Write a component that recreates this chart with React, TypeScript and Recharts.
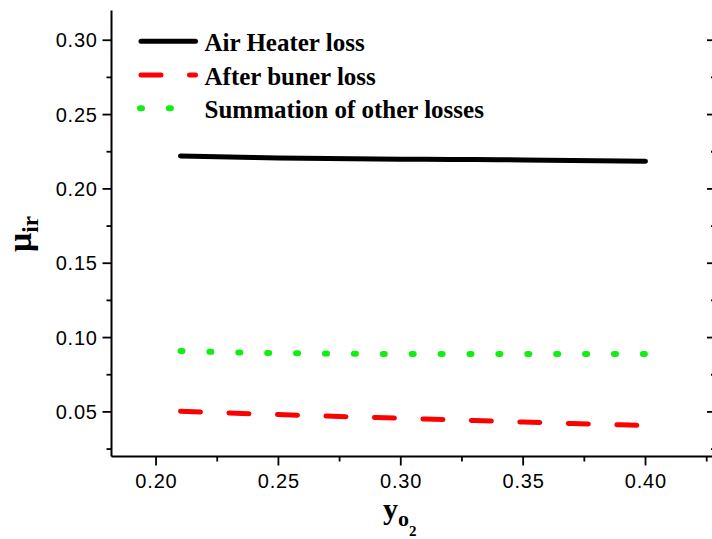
import React from 'react';
import { LineChart, Line, XAxis, YAxis, Legend, Label } from 'recharts';

const yO2 = [0.21, 0.22, 0.23, 0.24, 0.25, 0.26, 0.27, 0.28, 0.29, 0.30, 0.31, 0.32, 0.33, 0.34, 0.35, 0.36, 0.37, 0.38, 0.39, 0.40];
const airHeaterLoss = [0.2222, 0.2218, 0.2214, 0.2211, 0.2208, 0.2206, 0.2204, 0.2202, 0.2201, 0.2200, 0.2199, 0.2198, 0.2197, 0.2196, 0.2195, 0.2193, 0.2191, 0.2189, 0.2187, 0.2186];
const afterBurnerLoss = [0.0505, 0.0499, 0.0493, 0.0487, 0.0482, 0.0477, 0.0472, 0.0467, 0.0462, 0.0457, 0.0452, 0.0447, 0.0442, 0.0437, 0.0432, 0.0427, 0.0422, 0.0418, 0.0413, 0.0408];
const otherLosses = [0.0910, 0.0905, 0.0901, 0.0898, 0.0896, 0.0894, 0.0892, 0.0891, 0.0890, 0.0890, 0.0890, 0.0890, 0.0890, 0.0890, 0.0889, 0.0889, 0.0889, 0.0889, 0.0889, 0.0889];

const xTicks = [0.2, 0.225, 0.25, 0.275, 0.3, 0.325, 0.35, 0.375, 0.4, 0.425];
const yTicks = [0.025, 0.05, 0.075, 0.1, 0.125, 0.15, 0.175, 0.2, 0.225, 0.25, 0.275, 0.3];

const seriesNames = ['Air Heater loss', 'After buner loss', 'Summation of other losses'];

const data = yO2.map((x, i) => ({
  x,
  air: airHeaterLoss[i],
  after: afterBurnerLoss[i],
  other: otherLosses[i],
}));

const X_DOMAIN: [number, number] = [0.1818, 0.4288];
const Y_DOMAIN: [number, number] = [0.02, 0.32];

const SANS = '"Liberation Sans", Arial, sans-serif';
const SERIF = '"Liberation Serif", "Times New Roman", serif';

const isMajor = (v: number) => Math.abs(v * 20 - Math.round(v * 20)) < 1e-6;
const TICK_W = 1.8;

const BottomTick = (props: any) => {
  const { x, y, payload } = props;
  const v = payload.value as number;
  const major = isMajor(v);
  return (
    <g>
      <line x1={x} x2={x} y1={y} y2={y + (major ? 9 : 5)} stroke="#000" strokeWidth={TICK_W} />
      {major && (
        <text x={x + 0.4} y={y + 31.5} textAnchor="middle" fontFamily={SANS} fontSize={20} letterSpacing={0.8} fill="#000">
          {v.toFixed(2)}
        </text>
      )}
    </g>
  );
};

const LeftTick = (props: any) => {
  const { x, y, payload } = props;
  const v = payload.value as number;
  const major = isMajor(v);
  return (
    <g>
      <line x1={x} x2={x - (major ? 9 : 5)} y1={y} y2={y} stroke="#000" strokeWidth={TICK_W} />
      {major && (
        <text x={x - 13.7} y={y} dy="0.36em" textAnchor="end" fontFamily={SANS} fontSize={20} letterSpacing={0.8} fill="#000">
          {v.toFixed(2)}
        </text>
      )}
    </g>
  );
};

const TopTick = (props: any) => {
  const { x, y, payload } = props;
  const major = isMajor(payload.value);
  return <line x1={x} x2={x} y1={y} y2={y + (major ? 9 : 5)} stroke="#000" strokeWidth={TICK_W} />;
};

const RightTick = (props: any) => {
  const { x, y, payload } = props;
  const major = isMajor(payload.value);
  return <line x1={x} x2={x - (major ? 9 : 5)} y1={y} y2={y} stroke="#000" strokeWidth={TICK_W} />;
};

const styles = [
  { stroke: '#000000', dash: undefined as string | undefined, x1: 141, x2: 195.5 },
  { stroke: '#ff0000', dash: '20 28.5', x1: 141, x2: 195.5 },
  { stroke: '#11ee11', dash: '2 26.9', x1: 140, x2: 172 },
];

const LegendContent = (props: any) => {
  const payload = props.payload || [];
  const rows = [41.2, 75, 108.2];
  return (
    <svg width={712} height={130} style={{ position: 'absolute', left: 0, top: 0 }}>
      {seriesNames.map((name, i) => {
        const item = payload.find((p: any) => p.value === name);
        const s = styles[i];
        return (
          <g key={name}>
            <line
              x1={s.x1}
              x2={s.x2}
              y1={rows[i]}
              y2={rows[i]}
              stroke={item ? item.color : s.stroke}
              strokeWidth={i === 2 ? 6 : 5}
              strokeDasharray={s.dash}
              strokeLinecap="round"
            />
            <text x={204.5} y={rows[i] + 9.5} fontFamily={SERIF} fontWeight="bold" fontSize={25} fill="#000">
              {name}
            </text>
          </g>
        );
      })}
    </svg>
  );
};

const XTitle = () => (
  <text x={383} y={519} fontFamily={SERIF} fontWeight="bold" fontSize={30} fill="#000">
    <tspan>y</tspan>
    <tspan fontSize={22} dy={7}>o</tspan>
    <tspan fontSize={15} dy={10} dx={0}>2</tspan>
  </text>
);

const YTitle = () => (
  <text
    x={31}
    y={234}
    transform="rotate(-90, 31, 234)"
    textAnchor="middle"
    fontFamily={SERIF}
    fontWeight="bold"
    fill="#000"
  >
    <tspan fontSize={34}>μ</tspan>
    <tspan fontSize={23} dy={7}>ir</tspan>
  </text>
);

export default function App() {
  return (
    <div style={{ position: 'absolute', left: 0, top: 0, width: 712, height: 539, overflow: 'hidden', background: '#fff' }}>
      <LineChart width={717} height={539} data={data} margin={{ top: 10.5, right: 0, bottom: 0, left: 0 }}>
        <XAxis
          xAxisId="bottom"
          dataKey="x"
          type="number"
          domain={X_DOMAIN}
          allowDataOverflow
          ticks={xTicks}
          interval={0}
          height={82.5}
          tickSize={0}
          tickMargin={0}
          tickLine={false}
          axisLine={{ stroke: '#000', strokeWidth: 2 }}
          tick={<BottomTick />}
        >
          <Label content={<XTitle />} />
        </XAxis>
        <XAxis
          xAxisId="top"
          orientation="top"
          dataKey="x"
          type="number"
          domain={X_DOMAIN}
          allowDataOverflow
          ticks={xTicks}
          interval={0}
          height={0}
          tickSize={0}
          tickMargin={0}
          tickLine={false}
          axisLine={{ stroke: '#000', strokeWidth: 2 }}
          tick={<TopTick />}
        />
        <YAxis
          yAxisId="left"
          type="number"
          domain={Y_DOMAIN}
          allowDataOverflow
          ticks={yTicks}
          interval={0}
          width={111.5}
          tickSize={0}
          tickMargin={0}
          tickLine={false}
          axisLine={{ stroke: '#000', strokeWidth: 2 }}
          tick={<LeftTick />}
        >
          <Label content={<YTitle />} />
        </YAxis>
        <YAxis
          yAxisId="right"
          orientation="right"
          type="number"
          domain={Y_DOMAIN}
          allowDataOverflow
          ticks={yTicks}
          interval={0}
          width={1}
          tickSize={0}
          tickMargin={0}
          tickLine={false}
          axisLine={{ stroke: '#000', strokeWidth: 2 }}
          tick={<RightTick />}
        />
        <Legend
          layout="horizontal"
          verticalAlign="middle"
          align="center"
          content={<LegendContent />}
          wrapperStyle={{ position: 'absolute', left: 0, top: 0, width: 712, height: 130 }}
        />
        <Line
          xAxisId="bottom"
          yAxisId="left"
          name={seriesNames[0]}
          dataKey="air"
          type="linear"
          stroke="#000000"
          strokeWidth={5}
          strokeLinecap="round"
          dot={false}
          activeDot={false}
          isAnimationActive={false}
        />
        <Line
          xAxisId="bottom"
          yAxisId="left"
          name={seriesNames[1]}
          dataKey="after"
          type="linear"
          stroke="#ff0000"
          strokeWidth={5}
          strokeDasharray="20 28.5"
          strokeLinecap="round"
          dot={false}
          activeDot={false}
          isAnimationActive={false}
        />
        <Line
          xAxisId="bottom"
          yAxisId="left"
          name={seriesNames[2]}
          dataKey="other"
          type="linear"
          stroke="#11ee11"
          strokeWidth={6}
          strokeDasharray="2 26.9"
          strokeLinecap="round"
          dot={false}
          activeDot={false}
          isAnimationActive={false}
        />
      </LineChart>
    </div>
  );
}
